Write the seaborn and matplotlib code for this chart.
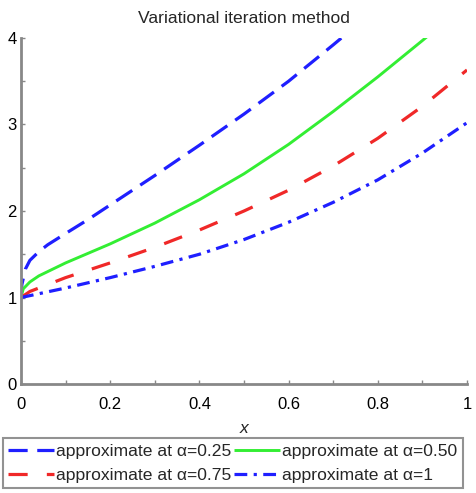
import matplotlib
matplotlib.use("Agg")
import matplotlib.pyplot as plt
import seaborn as sns
import numpy as np

# ---- data ----
x_a025 = [0.0, 0.002, 0.01, 0.02, 0.04, 0.06, 0.10, 0.15, 0.20, 0.25, 0.30, 0.40, 0.50, 0.60, 0.70, 0.80]
y_a025 = [1.0, 1.15, 1.33, 1.43, 1.53, 1.61, 1.74, 1.90, 2.07, 2.24, 2.41, 2.76, 3.12, 3.50, 3.92, 4.35]

x_a050 = [0.0, 0.005, 0.02, 0.04, 0.10, 0.20, 0.30, 0.40, 0.50, 0.60, 0.70, 0.80, 0.90, 1.00]
y_a050 = [1.0, 1.10, 1.18, 1.25, 1.40, 1.62, 1.86, 2.13, 2.43, 2.77, 3.15, 3.55, 3.97, 4.40]

x_a075 = [0.0, 0.02, 0.05, 0.10, 0.20, 0.30, 0.40, 0.50, 0.60, 0.70, 0.80, 0.90, 1.00]
y_a075 = [1.0, 1.07, 1.13, 1.23, 1.40, 1.58, 1.78, 2.00, 2.24, 2.52, 2.84, 3.21, 3.63]

x_a100 = [0.0, 0.10, 0.20, 0.30, 0.40, 0.50, 0.60, 0.70, 0.80, 0.90, 1.00]
y_a100 = [1.0, 1.11, 1.23, 1.36, 1.50, 1.67, 1.87, 2.10, 2.36, 2.67, 3.02]

labels = ["approximate at \u03b1=0.25", "approximate at \u03b1=0.50",
          "approximate at \u03b1=0.75", "approximate at \u03b1=1"]
x_ticks = [0, 0.2, 0.4, 0.6, 0.8, 1]
x_tick_labels = ["0", "0.2", "0.4", "0.6", "0.8", "1"]
y_ticks = [0, 1, 2, 3, 4]
title = "Variational iteration method"

sns.set_style("white")
plt.rcParams['font.family'] = ['Liberation Sans', 'DejaVu Sans']

fig = plt.figure(figsize=(4.77, 4.93), dpi=100)
ax = fig.add_axes([0.044, 0.221, 0.935, 0.702])

blue = "#1f1fff"
green = "#33ee33"
red = "#f02828"

sns.lineplot(x=x_a025, y=y_a025, ax=ax, color=blue, linewidth=2.3, label=labels[0], sort=False)
sns.lineplot(x=x_a050, y=y_a050, ax=ax, color=green, linewidth=2.1, label=labels[1], sort=False)
sns.lineplot(x=x_a075, y=y_a075, ax=ax, color=red, linewidth=2.3, label=labels[2], sort=False)
sns.lineplot(x=x_a100, y=y_a100, ax=ax, color=blue, linewidth=2.3, label=labels[3], sort=False)

lines = ax.get_lines()
lines[0].set_dashes([6, 3])
lines[2].set_dashes([6, 6])
lines[3].set_dashes([4, 2, 1, 2])
for ln in lines:
    ln.set_solid_capstyle('butt')
    ln.set_dash_capstyle('butt')

ax.set_xlim(0, 1)
ax.set_ylim(0, 4)
ax.set_xticks(x_ticks)
ax.set_xticklabels(x_tick_labels)
ax.set_yticks(y_ticks)
ax.set_xticks([0.1, 0.3, 0.5, 0.7, 0.9], minor=True)
ax.set_yticks([0.5, 1.5, 2.5, 3.5], minor=True)
ax.tick_params(axis='both', which='both', direction='in', colors='#888888',
               labelcolor='black', labelsize=12, width=1, length=3)
ax.tick_params(axis='x', which='both', bottom=True, pad=9)
ax.tick_params(axis='y', which='both', left=True, pad=3)

for s in ['top', 'right']:
    ax.spines[s].set_visible(False)
for s in ['left', 'bottom']:
    ax.spines[s].set_color('#888888')
    ax.spines[s].set_linewidth(2)

ax.set_title(title, fontsize=12.6, pad=11)
ax.set_xlabel("x", fontsize=12.5, style='italic', labelpad=7)
ax.set_ylabel("")

ax.get_legend().remove()
order = [0, 2, 1, 3]
leg = fig.legend(handles=[lines[i] for i in order], labels=[labels[i] for i in order],
                 loc='lower left',
                 bbox_to_anchor=(0.006, 0.01), ncol=2, fontsize=12.6,
                 frameon=True, fancybox=False, edgecolor='#777777',
                 handlelength=2.6, handletextpad=0.15, columnspacing=0.15,
                 borderpad=0.3, labelspacing=0.5, borderaxespad=0)
leg.get_frame().set_linewidth(1.5)

fig.savefig("out.png", dpi=100)
